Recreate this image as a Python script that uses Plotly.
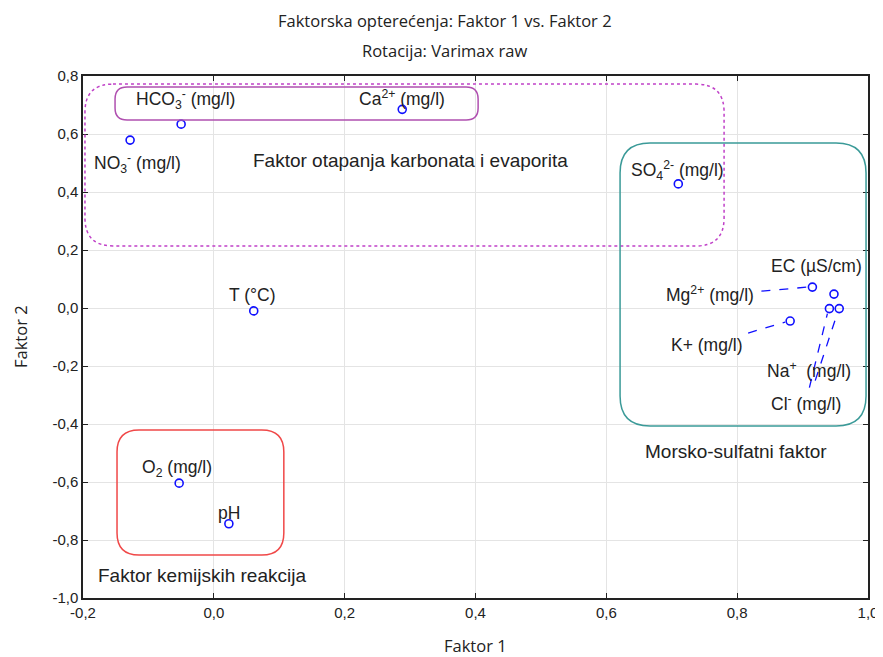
import plotly.graph_objects as go

# =============================================================================
# data (factor loadings)
# =============================================================================
names = ["NO3", "HCO3", "Ca", "SO4", "T", "Mg", "EC", "K", "Na", "Cl", "O2", "pH"]
labels = ["NO<sub>3</sub><sup>-</sup> (mg/l)", "HCO<sub>3</sub><sup>-</sup> (mg/l)",
          "Ca<sup>2+</sup> (mg/l)", "SO<sub>4</sub><sup>2-</sup> (mg/l)", "T (°C)",
          "Mg<sup>2+</sup> (mg/l)", "EC (µS/cm)", "K+ (mg/l)", "Na<sup>+</sup>  (mg/l)",
          "Cl<sup>-</sup> (mg/l)", "O<sub>2</sub> (mg/l)", "pH"]
faktor1 = [-0.128, -0.050, 0.288, 0.710, 0.061, 0.915, 0.948, 0.881, 0.941, 0.956, -0.053, 0.023]
faktor2 = [0.579, 0.634, 0.685, 0.428, -0.010, 0.072, 0.048, -0.045, -0.002, -0.002, -0.604, -0.744]

xticks = [-0.2, 0.0, 0.2, 0.4, 0.6, 0.8, 1.0]
xticktext = ["-0,2", "0,0", "0,2", "0,4", "0,6", "0,8", "1,0"]
yticks = [0.8, 0.6, 0.4, 0.2, 0.0, -0.2, -0.4, -0.6, -0.8, -1.0]
yticktext = ["0,8", "0,6", "0,4", "0,2", "0,0", "-0,2", "-0,4", "-0,6", "-0,8", "-1,0"]

# label offsets in pixels (dx, dy up) relative to each point
label_shift = {"NO3": (7, -23), "HCO3": (4, 25), "Ca": (0, 11), "SO4": (-1, 13),
               "T": (-1, 16), "Mg": (-102, -7), "EC": (-17, 28), "K": (-84, -24),
               "Na": (-20, -61), "Cl": (-33, -94), "O2": (-2, 15), "pH": (0, 11)}
# dashed leader lines, pixel offsets from the point (x0, y0, x1, y1)
leaders = {"Mg": (-51, -4, -5, 0), "K": (-42, -12, -5, -1),
           "Na": (-20, -79, -2, -5), "Cl": (-24, -72, -2, -5)}

# =============================================================================
# helpers
# =============================================================================
# page body has an 8px margin, so the figure is 8px smaller and margins shifted
W, H = 875, 649
ML, MR, MT, MB = 75, 15, 68, 59
XR = [-0.2, 1.0]
YR = [-1.0, 0.8]
PXX = (W - ML - MR) / (XR[1] - XR[0])
PXY = (H - MT - MB) / (YR[1] - YR[0])


def rrect(x0, y0, x1, y1, r):
    # rounded rectangle path in data units, r in pixels
    rx, ry = r / PXX, r / PXY
    return (f"M {x0+rx},{y1} L {x1-rx},{y1} Q {x1},{y1} {x1},{y1-ry} "
            f"L {x1},{y0+ry} Q {x1},{y0} {x1-rx},{y0} L {x0+rx},{y0} "
            f"Q {x0},{y0} {x0},{y0+ry} L {x0},{y1-ry} Q {x0},{y1} {x0+rx},{y1} Z")


fig = go.Figure()
fig.add_trace(go.Scatter(x=faktor1, y=faktor2, mode="markers",
                         marker=dict(symbol="circle-open", size=8, color="#1010ff",
                                     line=dict(width=1.6, color="#1010ff")),
                         hovertext=names, showlegend=False))

lab_font = dict(family="Liberation Sans, Arial", size=17.5, color="#222222")
for n, lab, x, y in zip(names, labels, faktor1, faktor2):
    dx, dy = label_shift[n]
    fig.add_annotation(x=x, y=y, text=lab, showarrow=False, xshift=dx, yshift=dy,
                       font=lab_font)
    if n in leaders:
        x0, y0, x1, y1 = leaders[n]
        fig.add_shape(type="line", xref="x", yref="y", xsizemode="pixel", ysizemode="pixel",
                      xanchor=x, yanchor=y, x0=x0, y0=y0, x1=x1, y1=y1,
                      line=dict(color="#1010ff", width=1.3, dash="dash"))

# group outlines
fig.add_shape(type="path", path=rrect(-0.197, 0.214, 0.780, 0.772, 28),
              line=dict(color="#c040c8", width=1.5, dash="dot"))
fig.add_shape(type="path", path=rrect(-0.151, 0.648, 0.404, 0.762, 12),
              line=dict(color="#b050b0", width=1.5))
fig.add_shape(type="path", path=rrect(0.621, -0.407, 0.997, 0.569, 30),
              line=dict(color="#3a9a98", width=1.5))
fig.add_shape(type="path", path=rrect(-0.148, -0.852, 0.107, -0.421, 22),
              line=dict(color="#f04848", width=1.5))

grp_font = dict(family="Liberation Sans, Arial", size=19, color="#222222")
fig.add_annotation(x=0.300, y=0.510, text="Faktor otapanja karbonata i evaporita",
                   showarrow=False, font=grp_font)
fig.add_annotation(x=0.798, y=-0.496, text="Morsko-sulfatni faktor",
                   showarrow=False, font=grp_font)
fig.add_annotation(x=-0.018, y=-0.921, text="Faktor kemijskih reakcija",
                   showarrow=False, font=grp_font)

# title and axis titles
tfont = dict(family="Open Sans", size=16.5, color="#222222")
fig.add_annotation(xref="paper", yref="paper", x=0.461, y=1, yshift=56,
                   xanchor="center", yanchor="middle",
                   text="Faktorska opterećenja: Faktor 1 vs. Faktor 2",
                   showarrow=False, font=tfont)
fig.add_annotation(xref="paper", yref="paper", x=0.461, y=1, yshift=26,
                   xanchor="center", yanchor="middle",
                   text="Rotacija: Varimax raw", showarrow=False, font=tfont)
fig.add_annotation(xref="paper", yref="paper", x=0.5, y=0, yshift=-47, borderpad=0,
                   xanchor="center", yanchor="middle",
                   text="Faktor 1", showarrow=False, font=tfont)
fig.add_annotation(xref="paper", yref="paper", x=0, y=0.5, xshift=-63, textangle=-90,
                   xanchor="center", yanchor="middle",
                   text="Faktor 2", showarrow=False, font=tfont)

fig.update_layout(width=W, height=H, margin=dict(l=ML, r=MR, t=MT, b=MB, autoexpand=False),
                  paper_bgcolor="white", plot_bgcolor="white")
fig.update_xaxes(range=XR, tickvals=xticks, ticktext=xticktext, automargin=False,
                 tickfont=dict(family="Liberation Sans Narrow, Arial Narrow, Liberation Sans",
                               size=15, color="#222222"),
                 showgrid=True, gridcolor="#e4e4e4", zeroline=False,
                 showline=True, linecolor="#222222", linewidth=1.5, mirror="ticks",
                 ticks="inside", ticklen=5, tickcolor="#222222")
fig.update_yaxes(range=YR, tickvals=yticks, ticktext=yticktext, automargin=False,
                 tickfont=dict(family="Liberation Sans, Arial", size=15, color="#222222"),
                 showgrid=True, gridcolor="#e4e4e4", zeroline=False,
                 showline=True, linecolor="#222222", linewidth=1.5, mirror="ticks",
                 ticks="inside", ticklen=5, tickcolor="#222222")

fig.write_html("out.html")
